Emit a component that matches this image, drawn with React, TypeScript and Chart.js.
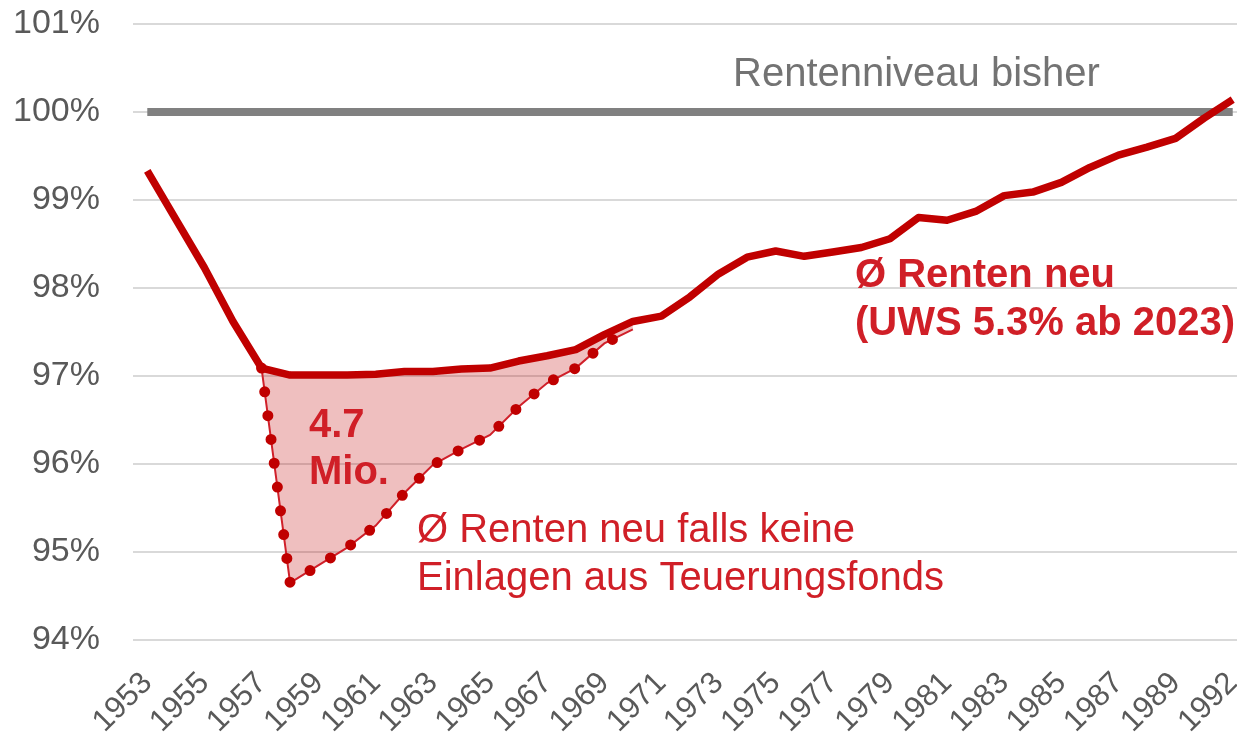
import React, { useEffect, useRef } from "react";
import { Chart, registerables } from "chart.js";

Chart.register(...registerables);

// ---- data ----
const years = [
  "1953", "1954", "1955", "1956", "1957", "1958", "1959", "1960", "1961", "1962",
  "1963", "1964", "1965", "1966", "1967", "1968", "1969", "1970", "1971", "1972",
  "1973", "1974", "1975", "1976", "1977", "1978", "1979", "1980", "1981", "1982",
  "1983", "1984", "1985", "1986", "1987", "1988", "1989", "1990", "1992",
];

const xTickLabels = [
  "1953", "1955", "1957", "1959", "1961", "1963", "1965", "1967", "1969", "1971",
  "1973", "1975", "1977", "1979", "1981", "1983", "1985", "1987", "1989", "1992",
];

// Ø Renten neu (UWS 5.3% ab 2023)
const rentenNeu = [
  99.33, 98.78, 98.23, 97.62, 97.09, 97.01, 97.01, 97.01, 97.02, 97.05,
  97.05, 97.08, 97.09, 97.17, 97.23, 97.3, 97.47, 97.62, 97.68, 97.9,
  98.16, 98.35, 98.42, 98.36, 98.41, 98.46, 98.56, 98.8, 98.77, 98.87,
  99.05, 99.09, 99.2, 99.37, 99.51, 99.6, 99.7, 99.93, 100.14,
];

// Ø Renten neu falls keine Einlagen aus Teuerungsfonds
const rentenOhneFonds = [
  null, null, null, null, 97.09, 94.65, 94.85, 95.05, 95.3, 95.67,
  95.99, 96.17, 96.33, 96.65, 96.92, 97.09, 97.37, 97.53, null, null,
  null, null, null, null, null, null, null, null, null, null,
  null, null, null, null, null, null, null, null, null,
];

// Rentenniveau bisher
const rentenniveauBisher = 100;

const yTicks = [94, 95, 96, 97, 98, 99, 100, 101];

const FONT = "'Liberation Sans', Arial, Helvetica, sans-serif";
const RED = "#c00000";
const TEXT_RED = "#d01f27";

const toPoints = (arr: (number | null)[]) => arr.map((v, i) => ({ x: i, y: v }));

const annotationPlugin = {
  id: "annotations",
  afterDraw(chart: any) {
    const ctx = chart.ctx;
    ctx.save();
    ctx.textAlign = "left";
    ctx.textBaseline = "alphabetic";

    ctx.fillStyle = "#737373";
    ctx.font = `40px ${FONT}`;
    ctx.fillText("Rentenniveau bisher", 733, 86);

    ctx.fillStyle = TEXT_RED;
    ctx.font = `bold 40px ${FONT}`;
    ctx.fillText("Ø Renten neu", 855, 287);
    ctx.fillText("(UWS 5.3% ab 2023)", 855, 335);

    ctx.fillText("4.7", 309, 437);
    ctx.fillText("Mio.", 309, 484);

    ctx.font = `40px ${FONT}`;
    ctx.fillText("Ø Renten neu falls keine", 417, 542);
    ctx.fillText("Einlagen aus Teuerungsfonds", 417, 590);
    ctx.restore();
  },
};

export default function App() {
  const canvasRef = useRef<HTMLCanvasElement | null>(null);

  useEffect(() => {
    if (!canvasRef.current) return;
    const tickIndices = xTickLabels.map((l) => years.indexOf(l));
    const chart = new Chart(canvasRef.current, {
      type: "line",
      data: {
        datasets: [
          {
            label: "Ø Renten neu (UWS 5.3% ab 2023)",
            data: toPoints(rentenNeu),
            borderColor: RED,
            borderWidth: 7.5,
            pointRadius: 0,
            fill: false,
            borderJoinStyle: "round",
          },
          {
            label: "dots",
            data: toPoints(rentenOhneFonds),
            borderColor: RED,
            borderWidth: 11,
            borderDash: [0, 24],
            borderCapStyle: "round",
            pointRadius: 0,
            fill: false,
            spanGaps: false,
          },
          {
            label: "Ø Renten neu falls keine Einlagen aus Teuerungsfonds",
            data: toPoints(rentenOhneFonds),
            borderColor: "#d0202a",
            borderWidth: 2,
            pointRadius: 0,
            backgroundColor: "rgba(192,0,0,0.25)",
            fill: "-2",
            spanGaps: false,
          },
          {
            label: "Rentenniveau bisher",
            data: [
              { x: 0, y: rentenniveauBisher },
              { x: years.length - 1, y: rentenniveauBisher },
            ],
            borderColor: "#808080",
            borderWidth: 8,
            pointRadius: 0,
            fill: false,
          },
        ],
      },
      options: {
        animation: false,
        responsive: false,
        maintainAspectRatio: false,
        layout: { padding: { top: 24, left: 8, right: 0, bottom: 0 } },
        plugins: {
          legend: { display: false },
          tooltip: { enabled: false },
        },
        scales: {
          x: {
            type: "linear",
            min: -0.5,
            max: years.length - 1 + 0.15,
            grid: { display: false },
            border: { display: false },
            afterBuildTicks: (scale: any) => {
              scale.ticks = tickIndices.map((v) => ({ value: v }));
            },
            afterFit: (scale: any) => {
              scale.height = 94;
              scale.paddingLeft = 0;
              scale.paddingRight = 0;
            },
            ticks: {
              autoSkip: false,
              minRotation: 45,
              maxRotation: 45,
              padding: 17,
              color: "#595959",
              font: { family: FONT, size: 31 },
              callback: (v: any) => years[v as number] ?? "",
            },
          },
          y: {
            min: yTicks[0],
            max: yTicks[yTicks.length - 1],
            afterBuildTicks: (scale: any) => {
              scale.ticks = yTicks.map((v) => ({ value: v }));
            },
            afterFit: (scale: any) => {
              scale.width = 125;
              scale.paddingTop = 0;
              scale.paddingBottom = 0;
            },
            grid: { color: "#d9d9d9", lineWidth: 2, drawTicks: false },
            border: { display: false },
            ticks: {
              padding: 33,
              color: "#595959",
              font: { family: FONT, size: 34 },
              callback: (v: any) => `${v}%`,
            },
          },
        },
      },
      plugins: [annotationPlugin],
    } as any);
    return () => chart.destroy();
  }, []);

  return (
    <div style={{ position: "fixed", left: 0, top: 0, width: 1237, height: 734, background: "#fff" }}>
      <canvas ref={canvasRef} width={1237} height={734} style={{ width: 1237, height: 734, display: "block" }} />
    </div>
  );
}
